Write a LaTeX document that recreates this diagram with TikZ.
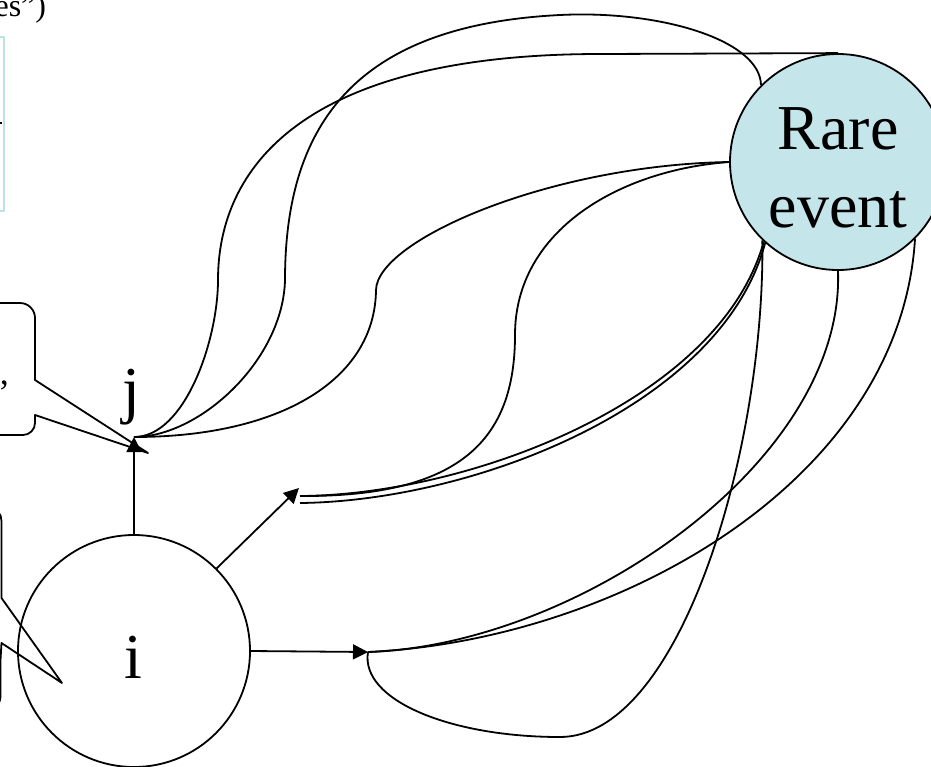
\documentclass[tikz,border=0pt]{standalone}
\usepackage{fontspec}
\setmainfont{Liberation Serif}
\usetikzlibrary{arrows.meta}
\pgfdeclarelayer{bg}
\pgfsetlayers{bg,main}
\definecolor{rarefill}{HTML}{C4E5E9}
\definecolor{boxcyan}{HTML}{BEE3E7}
\begin{document}
\begin{tikzpicture}[x=1pt,y=-1pt,line width=1.8pt,line join=round,
  tip/.style={-{Triangle[length=15pt,width=15pt]}},
  link/.style={draw=black,line width=1.8pt},
  bigfont/.style={font=\fontsize{64}{78}\selectfont}]
\clip (0,0) rectangle (931,766);
% nodes
\node[circle, draw, fill=rarefill, minimum size=216pt, inner sep=0pt] (rare) at (838,162) {};
\node[bigfont, align=center, inner sep=0pt] (raretxt) at (838,168) {Rare\\event};
\node[circle, draw, minimum size=232pt, inner sep=0pt] (i) at (134,651) {};
\node[bigfont, anchor=base, inner sep=0pt] (itxt) at (133,678) {i};
\node[bigfont, anchor=base, inner sep=0pt] (jtxt) at (131,411) {j};
\coordinate (jp) at (134,437);
\coordinate (mtip) at (299,488);
\coordinate (m1) at (300,496);
\coordinate (m2) at (300,503);
\coordinate (k) at (368,652);
% arrows from i
\draw[tip] (i.north) -- (jp);
\draw[tip] (i.45) -- (mtip);
\draw[tip] (i.east) -- (k);
% callouts and partial items on left
\draw (-20,303) -- (20,303) .. controls (28.3,303) and (35,309.7) .. (35,318) -- (35,380) -- (148,453) -- (35,415) -- (35,423) .. controls (35,429.6) and (29.6,435) .. (23,435) -- (-20,435);
\node[font=\fontsize{36}{42}\selectfont, anchor=base west, inner sep=0pt] (comma) at (-1,384) {,};
\draw (-20,508) -- (-10,508) .. controls (-3,508) and (1.5,514) .. (1.5,521) -- (1.5,598) -- (62,683) -- (1.5,643) -- (0.5,660) -- (0.5,697) .. controls (0.5,703) and (-4,707) .. (-10,707) -- (-20,707);
\node[font=\fontsize{32}{38}\selectfont, anchor=base east, inner sep=0pt] (toptxt) at (47,16) {es”)};
\draw[boxcyan, line width=1.5pt] (-20,37) -- (4,37) -- (4,211) -- (-20,211);
\draw[line width=1.5pt] (-2,123) -- (2,123);
% connectors behind the nodes
\begin{pgfonlayer}{bg}
\fill[white] (0,0) rectangle (931,766);
\draw[link] (jp) .. controls (185,437) and (218,340) .. (218,280) .. controls (218,170) and (300,54) .. (600,54) -- (rare.north);
\draw[link] (jp) .. controls (200,437) and (283,360) .. (285,280) .. controls (285,120) and (360,25) .. (560,15) .. controls (660,10) and (760,40) .. (rare.135);
\draw[link] (jp) .. controls (280,437) and (375,380) .. (376,290) .. controls (377,240) and (550,165) .. (rare.west);
\draw[link] (m1) .. controls (460,497) and (515,440) .. (515,335) .. controls (515,230) and (620,170) .. (rare.west);
\draw[link] (m1) .. controls (470,495) and (720,400) .. (rare.227);
\draw[link] (m2) .. controls (475,501) and (722,405) .. (rare.228);
\draw[link] (k) .. controls (580,645) and (845,460) .. (rare.south);
\draw[link] (k) .. controls (620,640) and (900,480) .. (rare.315);
\draw[link] (k) .. controls (360,700) and (450,737) .. (560,737) .. controls (680,737) and (765,450) .. (rare.226);
\end{pgfonlayer}
\end{tikzpicture}
\end{document}
